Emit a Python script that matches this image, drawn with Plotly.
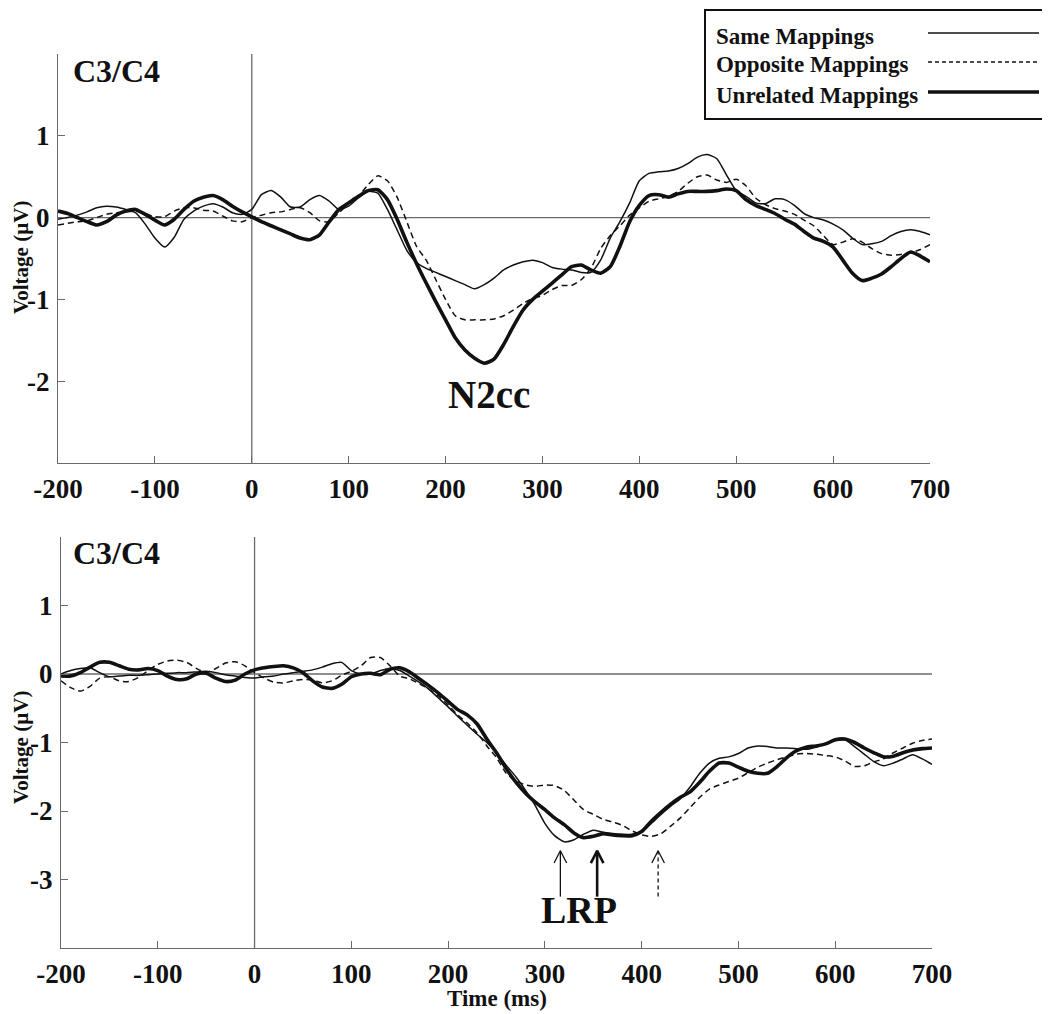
import plotly.graph_objects as go

# ---------------- data ----------------
time_ms = list(range(-200, 701, 10))

top_same = [-0.02, 0.0, 0.03, 0.07, 0.12, 0.14, 0.13, 0.10, 0.06, -0.08,
            -0.25, -0.36, -0.24, -0.02, 0.08, 0.14, 0.17, 0.13, 0.06, 0.04,
            0.10, 0.28, 0.33, 0.25, 0.13, 0.13, 0.22, 0.27, 0.20, 0.10,
            0.14, 0.24, 0.32, 0.30, 0.10, -0.15, -0.40, -0.55, -0.62, -0.67,
            -0.72, -0.77, -0.82, -0.87, -0.82, -0.74, -0.64, -0.58, -0.54, -0.52,
            -0.55, -0.61, -0.63, -0.64, -0.67, -0.67, -0.52, -0.25, -0.05, 0.18,
            0.45, 0.54, 0.56, 0.57, 0.60, 0.66, 0.74, 0.77, 0.72, 0.52,
            0.33, 0.26, 0.18, 0.17, 0.23, 0.22, 0.15, 0.05, 0.0, -0.03,
            -0.08, -0.15, -0.25, -0.33, -0.32, -0.29, -0.22, -0.17, -0.15, -0.17,
            -0.21]
top_opposite = [-0.09, -0.07, -0.05, -0.04, 0.0, 0.04, 0.06, 0.07, 0.08, 0.05,
                0.01, 0.01, 0.08, 0.12, 0.12, 0.09, 0.08, 0.02, -0.04, -0.05,
                0.0, 0.03, 0.06, 0.07, 0.10, 0.12, 0.06, -0.04, -0.05, 0.06,
                0.17, 0.26, 0.40, 0.51, 0.45, 0.25, -0.05, -0.35, -0.52, -0.76,
                -1.0, -1.20, -1.25, -1.25, -1.25, -1.24, -1.20, -1.13, -1.05, -0.99,
                -0.95, -0.88, -0.83, -0.83, -0.76, -0.62, -0.38, -0.22, -0.10, 0.03,
                0.12, 0.20, 0.23, 0.26, 0.32, 0.42, 0.50, 0.52, 0.46, 0.43,
                0.47, 0.39, 0.24, 0.16, 0.11, 0.08, 0.04, -0.03, -0.10, -0.22,
                -0.33, -0.30, -0.26, -0.30, -0.38, -0.44, -0.46, -0.45, -0.43, -0.39,
                -0.33]
top_unrelated = [0.08, 0.05, 0.0, -0.05, -0.09, -0.05, 0.03, 0.08, 0.10, 0.04,
                 -0.03, -0.09, -0.02, 0.10, 0.20, 0.25, 0.27, 0.22, 0.14, 0.07,
                 0.01, -0.05, -0.10, -0.15, -0.20, -0.25, -0.27, -0.21, -0.05, 0.10,
                 0.18, 0.26, 0.33, 0.34, 0.22, -0.02, -0.30, -0.56, -0.80, -1.03,
                 -1.25, -1.47, -1.62, -1.72, -1.78, -1.73, -1.55, -1.33, -1.13, -1.00,
                 -0.90, -0.80, -0.70, -0.60, -0.58, -0.64, -0.68, -0.60, -0.35, -0.05,
                 0.15, 0.27, 0.28, 0.25, 0.29, 0.32, 0.32, 0.32, 0.33, 0.35,
                 0.33, 0.22, 0.15, 0.10, 0.05, -0.02, -0.08, -0.17, -0.25, -0.29,
                 -0.36, -0.52, -0.68, -0.77, -0.74, -0.69, -0.60, -0.50, -0.42, -0.47,
                 -0.54]

bot_same = [0.0, 0.05, 0.08, 0.09, 0.02, -0.04, -0.03, -0.02, -0.02, -0.01,
            0.0, 0.01, 0.02, 0.02, 0.03, 0.04, 0.02, -0.01, -0.03, -0.05,
            -0.06, -0.04, -0.03, 0.0, 0.02, 0.04, 0.06, 0.10, 0.15, 0.17,
            0.05, 0.0, 0.0, 0.05, 0.08, 0.05, -0.03, -0.12, -0.22, -0.35,
            -0.48, -0.62, -0.75, -0.88, -1.0, -1.15, -1.33, -1.50, -1.70, -1.92,
            -2.18, -2.36, -2.45, -2.42, -2.34, -2.28, -2.31, -2.33, -2.34, -2.34,
            -2.30, -2.18, -2.05, -1.93, -1.82, -1.65, -1.45, -1.30, -1.23, -1.21,
            -1.16, -1.08, -1.05, -1.06, -1.08, -1.08, -1.09, -1.10, -1.07, -1.02,
            -0.97, -0.96, -1.06, -1.17, -1.28, -1.34, -1.30, -1.24, -1.18, -1.24,
            -1.32]
bot_opposite = [-0.10, -0.20, -0.25, -0.18, -0.06, -0.04, -0.10, -0.11, -0.05, 0.05,
                0.14, 0.19, 0.20, 0.17, 0.08, 0.02, 0.08, 0.16, 0.18, 0.12,
                0.02, -0.06, -0.12, -0.13, -0.10, -0.08, -0.09, -0.13, -0.10, -0.02,
                0.04, 0.12, 0.24, 0.24, 0.12, -0.03, -0.07, -0.14, -0.22, -0.32,
                -0.45, -0.60, -0.72, -0.86, -1.05, -1.22, -1.45, -1.56, -1.62, -1.64,
                -1.62, -1.63, -1.70, -1.84, -1.98, -2.05, -2.12, -2.16, -2.21, -2.29,
                -2.35, -2.37, -2.33, -2.22, -2.10, -1.95, -1.80, -1.68, -1.62, -1.57,
                -1.52, -1.44, -1.36, -1.30, -1.25, -1.21, -1.17, -1.16, -1.17, -1.19,
                -1.21, -1.27, -1.35, -1.34, -1.28, -1.24, -1.15, -1.08, -1.01, -0.97,
                -0.95]
bot_unrelated = [-0.03, -0.03, 0.02, 0.10, 0.17, 0.17, 0.12, 0.07, 0.06, 0.08,
                 0.05, -0.03, -0.08, -0.07, 0.0, 0.01, -0.06, -0.11, -0.09, 0.0,
                 0.06, 0.09, 0.11, 0.12, 0.09, 0.02, -0.10, -0.19, -0.21, -0.15,
                 -0.04, 0.0, 0.01, -0.01, 0.07, 0.09, 0.03, -0.07, -0.17, -0.28,
                 -0.40, -0.52, -0.60, -0.73, -0.95, -1.15, -1.38, -1.58, -1.74, -1.87,
                 -1.98, -2.10, -2.20, -2.32, -2.39, -2.37, -2.33, -2.35, -2.36, -2.36,
                 -2.30, -2.15, -2.02, -1.90, -1.80, -1.72, -1.58, -1.42, -1.30, -1.30,
                 -1.36, -1.42, -1.45, -1.45, -1.35, -1.22, -1.12, -1.07, -1.05, -1.02,
                 -0.96, -0.95, -1.00, -1.08, -1.15, -1.21, -1.20, -1.15, -1.11, -1.09,
                 -1.08]

series_names = ["Same Mappings", "Opposite Mappings", "Unrelated Mappings"]
x_ticks = [-200, -100, 0, 100, 200, 300, 400, 500, 600, 700]
top_yticks = [-2, -1, 0, 1]
bot_yticks = [-3, -2, -1, 0, 1]
lrp_latency = [316, 354, 417]      # LRP peak markers (ms)
lrp_tip, lrp_tail = -2.58, -3.25

# ---------------- styling ----------------
FONT = "Liberation Serif"
INK = "#111111"
AX = "#6a6a6a"
styles = [dict(color=INK, width=1.5),
          dict(color=INK, width=1.5, dash="6px,4px"),
          dict(color=INK, width=3.6)]

fig = go.Figure()

def add_panel(values, xa, ya):
    for name, vals, st in zip(series_names, values, styles):
        fig.add_trace(go.Scatter(x=time_ms, y=vals, mode="lines", name=name,
                                 line=dict(shape="spline", smoothing=0.6, **st),
                                 xaxis=xa, yaxis=ya, showlegend=False,
                                 hoverinfo="skip"))

add_panel([top_same, top_opposite, top_unrelated], "x", "y")
add_panel([bot_same, bot_opposite, bot_unrelated], "x2", "y2")

# LRP arrows (thin, thick, dashed) in the bottom panel
arrow_styles = [dict(color=INK, width=1.3), dict(color=INK, width=2.6),
                dict(color=INK, width=1.3, dash="4px,3px")]
for t, st in zip(lrp_latency, arrow_styles):
    fig.add_trace(go.Scatter(x=[t, t], y=[lrp_tail, lrp_tip], mode="lines",
                             line=st, xaxis="x2", yaxis="y2", showlegend=False,
                             hoverinfo="skip"))
    head = dict(st)
    head.pop("dash", None)
    fig.add_trace(go.Scatter(x=[t - 6.5, t, t + 6.5],
                             y=[lrp_tip - 0.18, lrp_tip, lrp_tip - 0.18],
                             mode="lines", line=head, xaxis="x2", yaxis="y2",
                             showlegend=False, hoverinfo="skip"))

W, H = 1050, 1014
OFF = 8   # the page body adds an 8px margin; place everything 8px up/left
def px(x):
    return (x - OFF) / W
def py(y):
    return 1 - (y - OFF) / H

tickfont = dict(family=FONT, size=27, color=INK, weight="bold")
common_x = dict(range=[-200, 700], tickvals=x_ticks, ticktext=[str(v) for v in x_ticks],
                ticks="inside", ticklen=7, tickcolor=AX, showline=True, linecolor=AX,
                linewidth=1.3, showgrid=False, zeroline=False, tickfont=tickfont,
                ticklabelstandoff=1, automargin=False)
common_y = dict(ticks="inside", ticklen=7, tickcolor=AX, showline=True,
                linecolor=AX, linewidth=1.3, showgrid=False, zeroline=False,
                tickfont=tickfont, automargin=False, ticklabelstandoff=2)

fig.update_layout(
    width=W, height=H, margin=dict(l=0, r=0, t=0, b=0),
    paper_bgcolor="white", plot_bgcolor="white",
    xaxis=dict(domain=[px(58), px(930)], anchor="y", **common_x),
    yaxis=dict(domain=[py(463), py(54)], range=[-3, 2], tickvals=top_yticks,
               ticktext=[str(v) for v in top_yticks], anchor="x", **common_y),
    xaxis2=dict(domain=[px(61), px(932)], anchor="y2", **common_x),
    yaxis2=dict(domain=[py(948), py(537)], range=[-4, 2], tickvals=bot_yticks,
                ticktext=[str(v) for v in bot_yticks], anchor="x2", **common_y),
)

# zero reference lines
for xr, yr in [("x", "y"), ("x2", "y2")]:
    fig.add_shape(type="line", xref=f"{xr} domain", yref=yr, x0=0, x1=1, y0=0, y1=0,
                  line=dict(color=AX, width=1.3), layer="below")
    fig.add_shape(type="line", xref=xr, yref=f"{yr} domain", x0=0, x1=0, y0=0, y1=1,
                  line=dict(color=AX, width=1.3), layer="below")

# axis titles
title_font = dict(family=FONT, size=21, color=INK, weight="bold")
for yc in (258, 748):
    fig.add_annotation(text="Voltage (\u00b5V)", xref="paper", yref="paper",
                       x=px(21), y=py(yc), textangle=-90, showarrow=False,
                       xanchor="center", yanchor="middle", font=title_font)
fig.add_annotation(text="Time (ms)", xref="paper", yref="paper", x=px(497), y=py(998),
                   showarrow=False, xanchor="center", yanchor="middle",
                   font=dict(family=FONT, size=23, color=INK, weight="bold"))

# panel labels
for yc in (71, 553):
    fig.add_annotation(text="C3/C4", xref="paper", yref="paper", x=px(71), y=py(yc),
                       xanchor="left", yanchor="middle", showarrow=False,
                       font=dict(family=FONT, size=32, color=INK, weight="bold"))

fig.add_annotation(text="N2cc", xref="x", yref="y", x=245, y=-2.16, showarrow=False,
                   font=dict(family=FONT, size=39, color=INK, weight="bold"))
fig.add_annotation(text="LRP", xref="x2", yref="y2", x=335, y=-3.45, showarrow=False,
                   font=dict(family=FONT, size=38, color=INK, weight="bold"))

# custom legend box (line samples on the right as in the original)
fig.add_shape(type="rect", xref="paper", yref="paper", x0=px(705), x1=px(1043),
              y0=py(119), y1=py(10), line=dict(color=INK, width=2), fillcolor="white")
leg_y = [36, 65, 95]
for name, st, yy in zip(series_names, styles, leg_y):
    fig.add_annotation(text=name, xref="paper", yref="paper", x=px(714), y=py(yy),
                       xanchor="left", yanchor="middle", showarrow=False,
                       font=dict(family=FONT, size=23, color=INK, weight="bold"))
    lst = dict(st)
    if "dash" in lst:
        lst["dash"] = "4px,3px"
    fig.add_shape(type="line", xref="paper", yref="paper", x0=px(928), x1=px(1039),
                  y0=py(yy - 3), y1=py(yy - 3), line=lst)

fig.write_html("out.html")
